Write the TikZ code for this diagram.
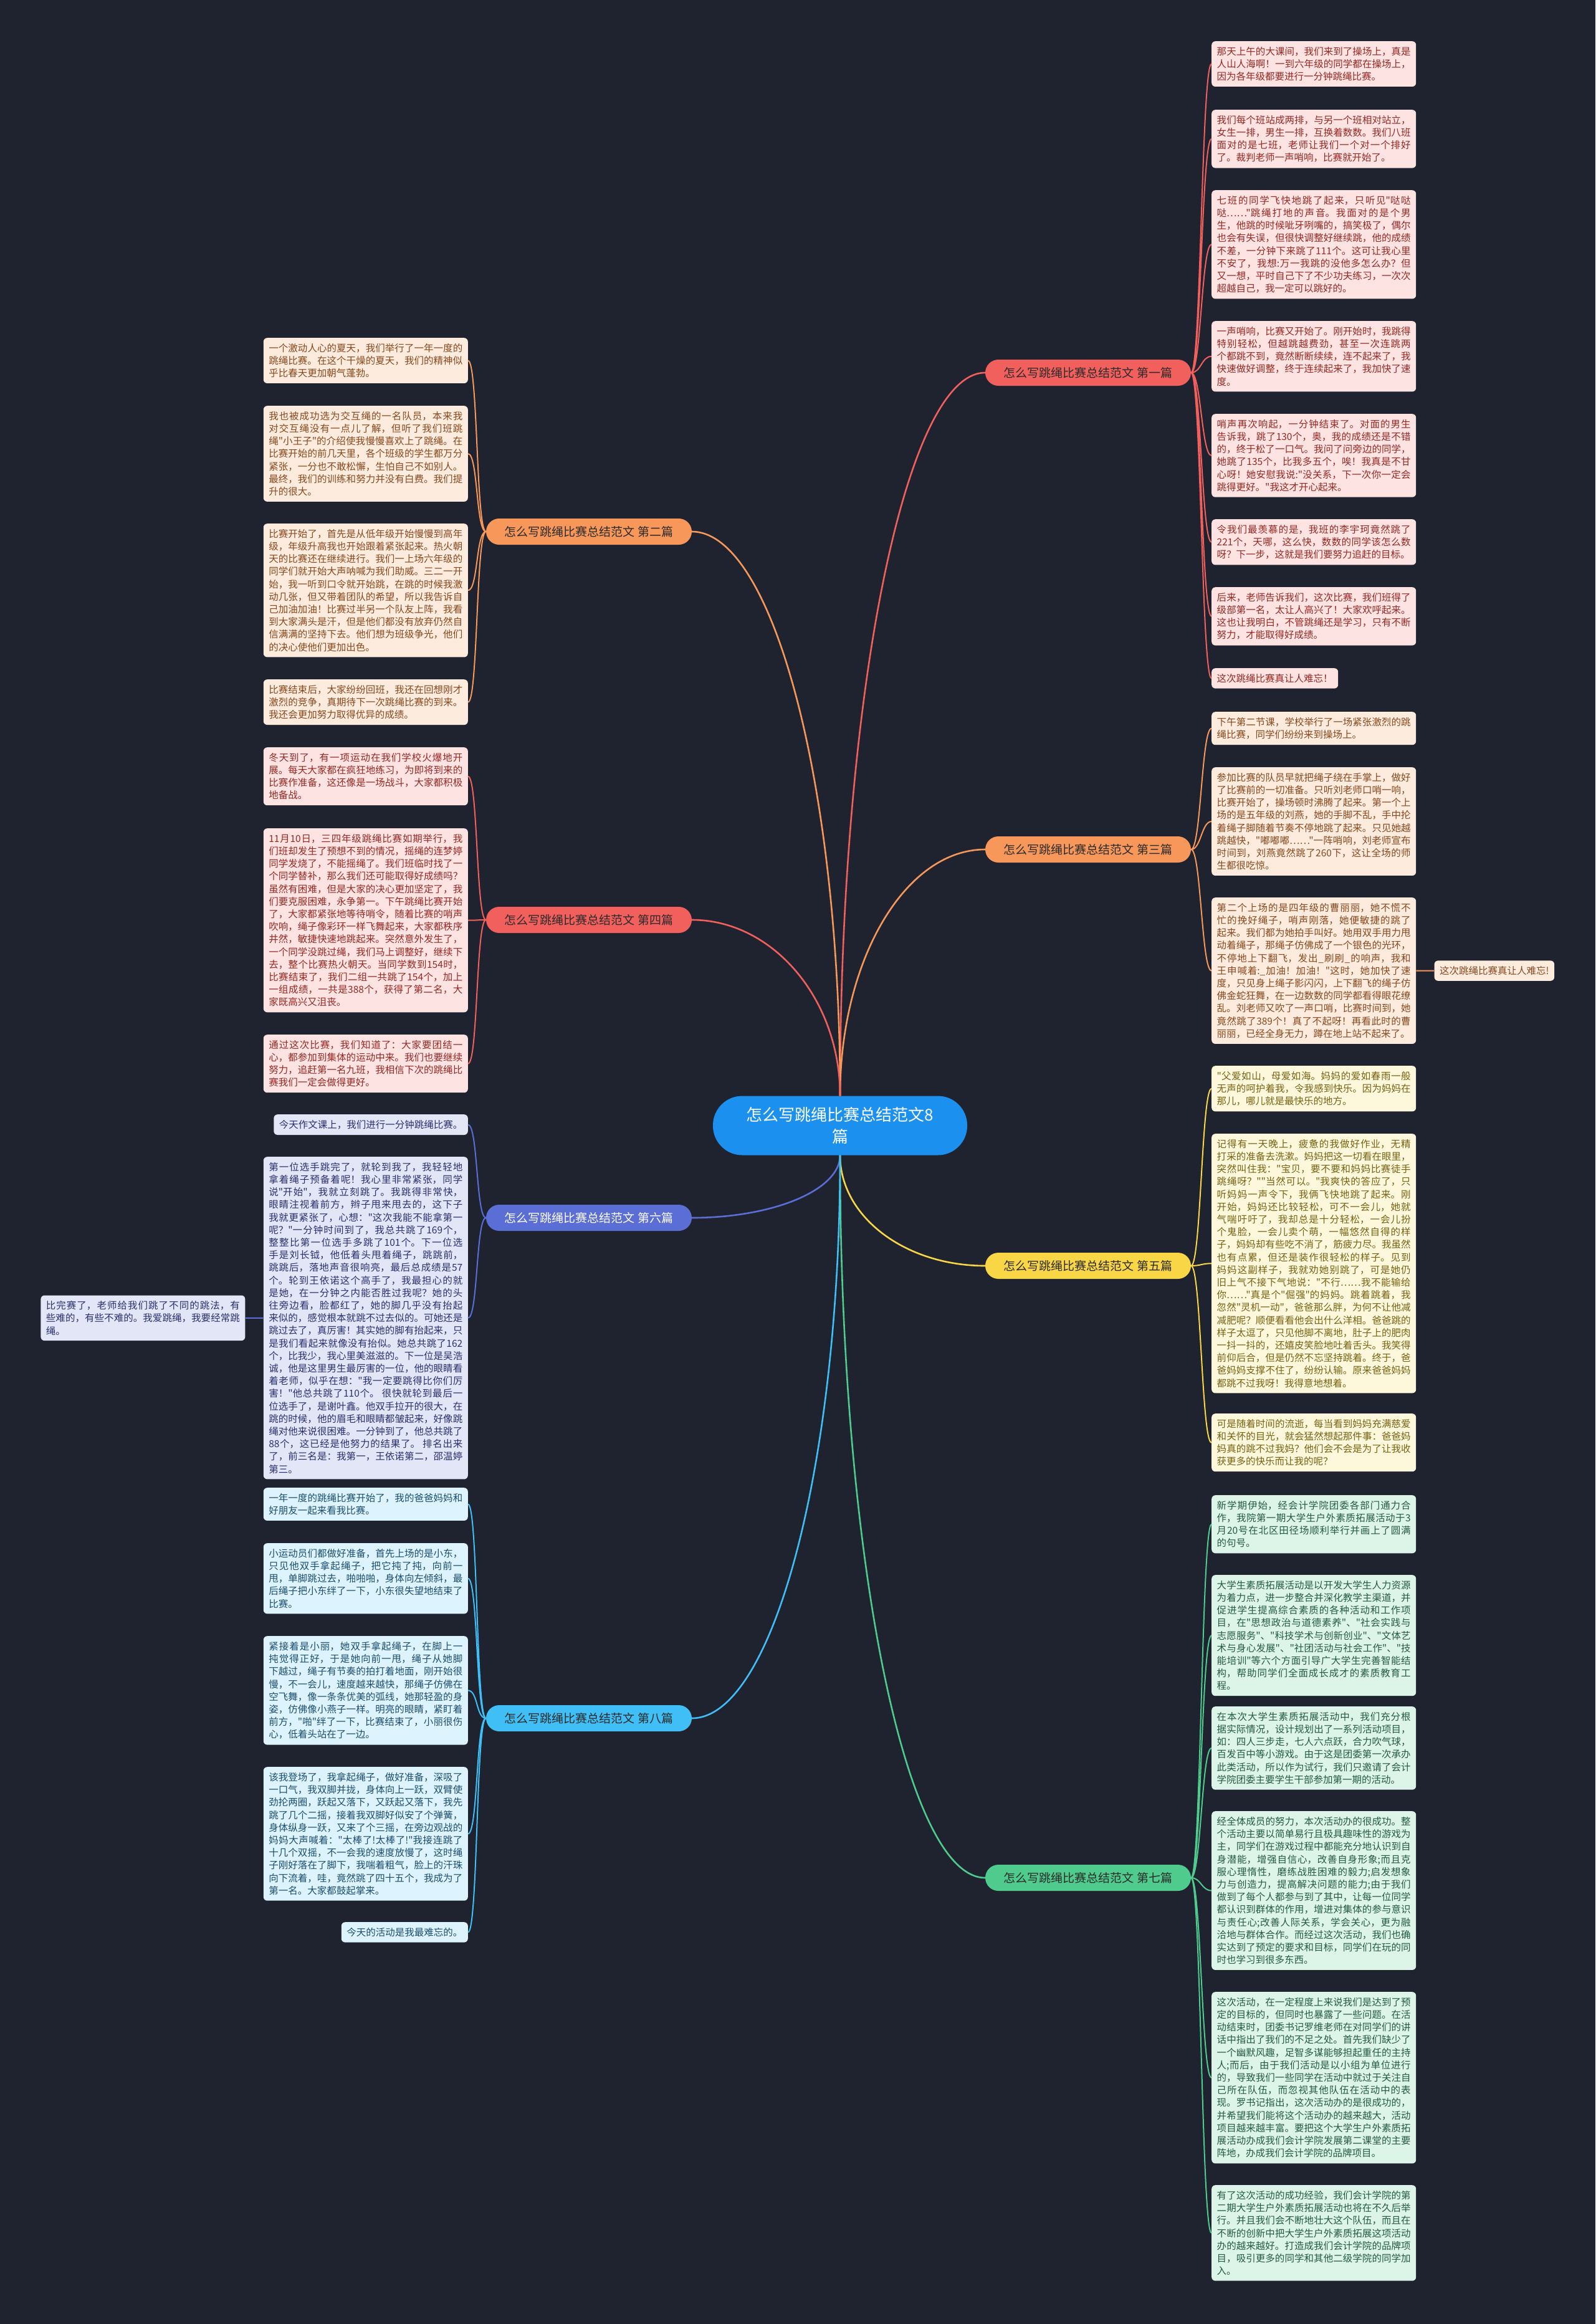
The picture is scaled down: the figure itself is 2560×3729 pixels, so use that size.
\documentclass[tikz,border=0pt]{standalone}
\usepackage{fontspec}
\setmainfont{Noto Sans CJK SC}[Ligatures=TeXOff]
\usepackage{tikz}
\usetikzlibrary{positioning}
\XeTeXlinebreaklocale "zh"
\XeTeXlinebreakskip = 0pt plus 2pt

\definecolor{bgc}{HTML}{1F2330}
\definecolor{hubc}{HTML}{1B90EF}
\definecolor{cred}{HTML}{F2605E}
\definecolor{corg}{HTML}{F7985A}
\definecolor{cyel}{HTML}{F9D645}
\definecolor{cind}{HTML}{5B6ED6}
\definecolor{cgrn}{HTML}{4ECB8D}
\definecolor{csky}{HTML}{3FBFF5}
\definecolor{pillink}{HTML}{2B2B2B}

\newcommand{\leaffont}{\fontsize{15.5}{20.2}\selectfont}
\tikzset{
  hub/.style={fill=hubc, text=white, rounded corners=47pt, minimum width=408pt,
    minimum height=95pt, align=center, font=\fontsize{26}{35}\selectfont},
  pill/.style={rounded corners=21pt, minimum width=330pt, minimum height=42pt,
    inner sep=0pt, text=pillink, font=\fontsize{19}{22}\selectfont},
  leaf/.style={rounded corners=6pt, inner xsep=8.5pt, inner ysep=9pt,
    text width=311pt, align=justify, font=\leaffont},
  tip/.style={rounded corners=6pt, inner xsep=8.5pt, inner ysep=9pt, font=\leaffont},
  lred/.style={fill={rgb,255:red,253;green,227;blue,225}, text={rgb,255:red,150;green,40;blue,36}},
  lorg/.style={fill={rgb,255:red,253;green,235;blue,221}, text={rgb,255:red,135;green,72;blue,30}},
  lyel/.style={fill={rgb,255:red,253;green,247;blue,219}, text={rgb,255:red,118;green,98;blue,18}},
  lind/.style={fill={rgb,255:red,227;green,230;blue,247}, text={rgb,255:red,42;green,48;blue,110}},
  lgrn/.style={fill={rgb,255:red,221;green,244;blue,232}, text={rgb,255:red,36;green,90;blue,68}},
  lsky/.style={fill={rgb,255:red,221;green,243;blue,253}, text={rgb,255:red,27;green,78;blue,110}},
  wire/.style={line width=2.6pt},
  twig/.style={line width=2pt},
  rgo/.style={to path={.. controls ([xshift=16pt]\tikztostart) and ([xshift=-16pt]\tikztotarget) .. (\tikztotarget)}},
  lgo/.style={to path={.. controls ([xshift=-16pt]\tikztostart) and ([xshift=16pt]\tikztotarget) .. (\tikztotarget)}}
}

\begin{document}
\begin{tikzpicture}[x=1pt,y=1pt]
\fill[bgc] (0,0) rectangle (2560,-3729);
\useasboundingbox (0,0) rectangle (2560,-3729);

% centre and the eight pieces
\node[hub] (c) at (1348,-1806) {怎么写跳绳比赛总结范文8\\篇};
\node[pill, fill=cred] (b1) at (1746,-598) {怎么写跳绳比赛总结范文 第一篇};
\node[pill, fill=corg] (b2) at (945,-853) {怎么写跳绳比赛总结范文 第二篇};
\node[pill, fill=corg] (b3) at (1746,-1363) {怎么写跳绳比赛总结范文 第三篇};
\node[pill, fill=cred] (b4) at (945,-1476) {怎么写跳绳比赛总结范文 第四篇};
\node[pill, fill=cyel] (b5) at (1746,-2031) {怎么写跳绳比赛总结范文 第五篇};
\node[pill, fill=cind, text=white] (b6) at (945,-1954) {怎么写跳绳比赛总结范文 第六篇};
\node[pill, fill=cgrn] (b7) at (1746,-3013) {怎么写跳绳比赛总结范文 第七篇};
\node[pill, fill=csky] (b8) at (945,-2757) {怎么写跳绳比赛总结范文 第八篇};

% first
\node[leaf, lred, anchor=north west] (r11) at (1944,-66) {那天上午的大课间，我们来到了操场上，真是人山人海啊！一到六年级的同学都在操场上，因为各年级都要进行一分钟跳绳比赛。};
\node[leaf, lred, anchor=north west] (r12) at (1944,-176) {我们每个班站成两排，与另一个班相对站立，女生一排，男生一排，互换着数数。我们八班面对的是七班，老师让我们一个对一个排好了。裁判老师一声哨响，比赛就开始了。};
\node[leaf, lred, anchor=north west] (r13) at (1944,-305) {七班的同学飞快地跳了起来，只听见"哒哒哒……"跳绳打地的声音。我面对的是个男生，他跳的时候呲牙咧嘴的，搞笑极了，偶尔也会有失误，但很快调整好继续跳，他的成绩不差，一分钟下来跳了111个。这可让我心里不安了，我想:万一我跳的没他多怎么办？但又一想，平时自己下了不少功夫练习，一次次超越自己，我一定可以跳好的。};
\node[leaf, lred, anchor=north west] (r14) at (1944,-515) {一声哨响，比赛又开始了。刚开始时，我跳得特别轻松，但越跳越费劲，甚至一次连跳两个都跳不到，竟然断断续续，连不起来了，我快速做好调整，终于连续起来了，我加快了速度。};
\node[leaf, lred, anchor=north west] (r15) at (1944,-664) {哨声再次响起，一分钟结束了。对面的男生告诉我，跳了130个，奥，我的成绩还是不错的，终于松了一口气。我问了问旁边的同学，她跳了135个，比我多五个，唉！我真是不甘心呀！她安慰我说:"没关系，下一次你一定会跳得更好。"我这才开心起来。};
\node[leaf, lred, anchor=north west] (r16) at (1944,-833) {令我们最羡慕的是，我班的李宇珂竟然跳了221个，天哪，这么快，数数的同学该怎么数呀？下一步，这就是我们要努力追赶的目标。};
\node[leaf, lred, anchor=north west] (r17) at (1944,-942) {后来，老师告诉我们，这次比赛，我们班得了级部第一名，太让人高兴了！大家欢呼起来。这也让我明白，不管跳绳还是学习，只有不断努力，才能取得好成绩。};
\node[tip, lred, anchor=north west] (r18) at (1944,-1072) {这次跳绳比赛真让人难忘！};

% third
\node[leaf, lorg, anchor=north west] (r31) at (1944,-1142) {下午第二节课，学校举行了一场紧张激烈的跳绳比赛，同学们纷纷来到操场上。};
\node[leaf, lorg, anchor=north west] (r32) at (1944,-1231) {参加比赛的队员早就把绳子绕在手掌上，做好了比赛前的一切准备。只听刘老师口哨一响，比赛开始了，操场顿时沸腾了起来。第一个上场的是五年级的刘燕，她的手脚不乱，手中抡着绳子脚随着节奏不停地跳了起来。只见她越跳越快，"嘟嘟嘟……"一阵哨响，刘老师宣布时间到，刘燕竟然跳了260下，这让全场的师生都很吃惊。};
\node[leaf, lorg, anchor=north west] (r33) at (1944,-1440) {第二个上场的是四年级的曹丽丽，她不慌不忙的挽好绳子，哨声刚落，她便敏捷的跳了起来。我们都为她拍手叫好。她用双手用力甩动着绳子，那绳子仿佛成了一个银色的光环，不停地上下翻飞，发出\_刷刷\_的响声，我和王申喊着:\_加油！加油！"这时，她加快了速度，只见身上绳子影闪闪，上下翻飞的绳子仿佛金蛇狂舞，在一边数数的同学都看得眼花缭乱。刘老师又吹了一声口哨，比赛时间到，她竟然跳了389个！真了不起呀！再看此时的曹丽丽，已经全身无力，蹲在地上站不起来了。};
\node[tip, lorg, right=29pt of r33] (r3c) {这次跳绳比赛真让人难忘!};

% fifth
\node[leaf, lyel, anchor=north west] (r51) at (1944,-1710) {"父爱如山，母爱如海。妈妈的爱如春雨一般无声的呵护着我，令我感到快乐。因为妈妈在那儿，哪儿就是最快乐的地方。};
\node[leaf, lyel, anchor=north west] (r52) at (1944,-1819) {记得有一天晚上，疲惫的我做好作业，无精打采的准备去洗漱。妈妈把这一切看在眼里，突然叫住我："宝贝，要不要和妈妈比赛徒手跳绳呀？""当然可以。"我爽快的答应了，只听妈妈一声令下，我俩飞快地跳了起来。刚开始，妈妈还比较轻松，可不一会儿，她就气喘吁吁了，我却总是十分轻松，一会儿扮个鬼脸，一会儿卖个萌，一幅悠然自得的样子，妈妈却有些吃不消了，筋疲力尽。我虽然也有点累，但还是装作很轻松的样子。见到妈妈这副样子，我就劝她别跳了，可是她仍旧上气不接下气地说："不行……我不能输给你……"真是个"倔强"的妈妈。跳着跳着，我忽然"灵机一动"，爸爸那么胖，为何不让他减减肥呢？顺便看看他会出什么洋相。爸爸跳的样子太逗了，只见他脚不离地，肚子上的肥肉一抖一抖的，还嬉皮笑脸地吐着舌头。我笑得前仰后合，但是仍然不忘坚持跳着。终于，爸爸妈妈支撑不住了，纷纷认输。原来爸爸妈妈都跳不过我呀！我得意地想着。};
\node[leaf, lyel, anchor=north west] (r53) at (1944,-2268) {可是随着时间的流逝，每当看到妈妈充满慈爱和关怀的目光，就会猛然想起那件事：爸爸妈妈真的跳不过我妈？他们会不会是为了让我收获更多的快乐而让我的呢？};

% seventh
\node[leaf, lgrn, anchor=north west] (r71) at (1944,-2399) {新学期伊始，经会计学院团委各部门通力合作，我院第一期大学生户外素质拓展活动于3月20号在北区田径场顺利举行并画上了圆满的句号。};
\node[leaf, lgrn, anchor=north west] (r72) at (1944,-2527) {大学生素质拓展活动是以开发大学生人力资源为着力点，进一步整合并深化教学主渠道，并促进学生提高综合素质的各种活动和工作项目，在"思想政治与道德素养"、"社会实践与志愿服务"、"科技学术与创新创业"、"文体艺术与身心发展"、"社团活动与社会工作"、"技能培训"等六个方面引导广大学生完善智能结构，帮助同学们全面成长成才的素质教育工程。};
\node[leaf, lgrn, anchor=north west] (r73) at (1944,-2738) {在本次大学生素质拓展活动中，我们充分根据实际情况，设计规划出了一系列活动项目，如：四人三步走，七人六点跃，合力吹气球，百发百中等小游戏。由于这是团委第一次承办此类活动，所以作为试行，我们只邀请了会计学院团委主要学生干部参加第一期的活动。};
\node[leaf, lgrn, anchor=north west] (r74) at (1944,-2906) {经全体成员的努力，本次活动办的很成功。整个活动主要以简单易行且极具趣味性的游戏为主，同学们在游戏过程中都能充分地认识到自身潜能，增强自信心，改善自身形象;而且克服心理惰性，磨练战胜困难的毅力;启发想象力与创造力，提高解决问题的能力;由于我们做到了每个人都参与到了其中，让每一位同学都认识到群体的作用，增进对集体的参与意识与责任心;改善人际关系，学会关心，更为融洽地与群体合作。而经过这次活动，我们也确实达到了预定的要求和目标，同学们在玩的同时也学习到很多东西。};
\node[leaf, lgrn, anchor=north west] (r75) at (1944,-3196) {这次活动，在一定程度上来说我们是达到了预定的目标的，但同时也暴露了一些问题。在活动结束时，团委书记罗维老师在对同学们的讲话中指出了我们的不足之处。首先我们缺少了一个幽默风趣，足智多谋能够担起重任的主持人;而后，由于我们活动是以小组为单位进行的，导致我们一些同学在活动中就过于关注自己所在队伍，而忽视其他队伍在活动中的表现。罗书记指出，这次活动办的是很成功的，并希望我们能将这个活动办的越来越大，活动项目越来越丰富。要把这个大学生户外素质拓展活动办成我们会计学院发展第二课堂的主要阵地，办成我们会计学院的品牌项目。};
\node[leaf, lgrn, anchor=north west] (r76) at (1944,-3506) {有了这次活动的成功经验，我们会计学院的第二期大学生户外素质拓展活动也将在不久后举行。并且我们会不断地壮大这个队伍，而且在不断的创新中把大学生户外素质拓展这项活动办的越来越好。打造成我们会计学院的品牌项目，吸引更多的同学和其他二级学院的同学加入。};

% second
\node[leaf, lorg, anchor=north east] (l21) at (751,-542) {一个激动人心的夏天，我们举行了一年一度的跳绳比赛。在这个干燥的夏天，我们的精神似乎比春天更加朝气蓬勃。};
\node[leaf, lorg, anchor=north east] (l22) at (751,-651) {我也被成功选为交互绳的一名队员，本来我对交互绳没有一点儿了解，但听了我们班跳绳"小王子"的介绍使我慢慢喜欢上了跳绳。在比赛开始的前几天里，各个班级的学生都万分紧张，一分也不敢松懈，生怕自己不如别人。最终，我们的训练和努力并没有白费。我们提升的很大。};
\node[leaf, lorg, anchor=north east] (l23) at (751,-840) {比赛开始了，首先是从低年级开始慢慢到高年级，年级升高我也开始跟着紧张起来。热火朝天的比赛还在继续进行。我们一上场六年级的同学们就开始大声呐喊为我们助威。三二一开始，我一听到口令就开始跳，在跳的时候我激动几张，但又带着团队的希望，所以我告诉自己加油加油！比赛过半另一个队友上阵，我看到大家满头是汗，但是他们都没有放弃仍然自信满满的坚持下去。他们想为班级争光，他们的决心使他们更加出色。};
\node[leaf, lorg, anchor=north east] (l24) at (751,-1090) {比赛结束后，大家纷纷回班，我还在回想刚才激烈的竞争，真期待下一次跳绳比赛的到来。我还会更加努力取得优异的成绩。};

% fourth
\node[leaf, lred, anchor=north east] (l41) at (751,-1199) {冬天到了，有一项运动在我们学校火爆地开展。每天大家都在疯狂地练习，为即将到来的比赛作准备，这还像是一场战斗，大家都积极地备战。};
\node[leaf, lred, anchor=north east] (l42) at (751,-1329) {11月10日，三四年级跳绳比赛如期举行，我们班却发生了预想不到的情况，摇绳的连梦婷同学发烧了，不能摇绳了。我们班临时找了一个同学替补，那么我们还可能取得好成绩吗？虽然有困难，但是大家的决心更加坚定了，我们要克服困难，永争第一。下午跳绳比赛开始了，大家都紧张地等待哨令，随着比赛的哨声吹响，绳子像彩环一样飞舞起来，大家都秩序井然，敏捷快速地跳起来。突然意外发生了，一个同学没跳过绳，我们马上调整好，继续下去，整个比赛热火朝天。当同学数到154时，比赛结束了，我们二组一共跳了154个，加上一组成绩，一共是388个，获得了第二名，大家既高兴又沮丧。};
\node[leaf, lred, anchor=north east] (l43) at (751,-1660) {通过这次比赛，我们知道了：大家要团结一心，都参加到集体的运动中来。我们也要继续努力，追赶第一名九班，我相信下次的跳绳比赛我们一定会做得更好。};

% sixth
\node[tip, lind, anchor=north east] (l61) at (751,-1788) {今天作文课上，我们进行一分钟跳绳比赛。};
\node[leaf, lind, anchor=north east] (l62) at (751,-1856) {第一位选手跳完了，就轮到我了，我轻轻地拿着绳子预备着呢！我心里非常紧张，同学说"开始"，我就立刻跳了。我跳得非常快，眼睛注视着前方，辫子甩来甩去的，这下子我就更紧张了，心想："这次我能不能拿第一呢？"一分钟时间到了，我总共跳了169个，整整比第一位选手多跳了101个。下一位选手是刘长钺，他低着头甩着绳子，跳跳前，跳跳后，落地声音很响亮，最后总成绩是57个。轮到王依诺这个高手了，我最担心的就是她，在一分钟之内能否胜过我呢？她的头往旁边看，脸都红了，她的脚几乎没有抬起来似的，感觉根本就跳不过去似的。可她还是跳过去了，真厉害！其实她的脚有抬起来，只是我们看起来就像没有抬似。她总共跳了162个，比我少，我心里美滋滋的。下一位是吴浩诚，他是这里男生最厉害的一位，他的眼睛看着老师，似乎在想："我一定要跳得比你们厉害！"他总共跳了110个。 很快就轮到最后一位选手了，是谢叶鑫。他双手拉开的很大，在跳的时候，他的眉毛和眼睛都皱起来，好像跳绳对他来说很困难。一分钟到了，他总共跳了88个，这已经是他努力的结果了。 排名出来了，前三名是：我第一，王依诺第二，邵温婷第三。};
\node[leaf, lind, left=29pt of l62] (l6c) {比完赛了，老师给我们跳了不同的跳法，有些难的，有些不难的。我爱跳绳，我要经常跳绳。};

% eighth
\node[leaf, lsky, anchor=north east] (l81) at (751,-2387) {一年一度的跳绳比赛开始了，我的爸爸妈妈和好朋友一起来看我比赛。};
\node[leaf, lsky, anchor=north east] (l82) at (751,-2476) {小运动员们都做好准备，首先上场的是小东，只见他双手拿起绳子，把它扽了扽，向前一甩，单脚跳过去，啪啪啪，身体向左倾斜，最后绳子把小东绊了一下，小东很失望地结束了比赛。};
\node[leaf, lsky, anchor=north east] (l83) at (751,-2625) {紧接着是小丽，她双手拿起绳子，在脚上一扽觉得正好，于是她向前一甩，绳子从她脚下越过，绳子有节奏的拍打着地面，刚开始很慢，不一会儿，速度越来越快，那绳子仿佛在空飞舞，像一条条优美的弧线，她那轻盈的身姿，仿佛像小燕子一样。明亮的眼睛，紧盯着前方，"啪"绊了一下，比赛结束了，小丽很伤心，低着头站在了一边。};
\node[leaf, lsky, anchor=north east] (l84) at (751,-2835) {该我登场了，我拿起绳子，做好准备，深吸了一口气，我双脚并拢，身体向上一跃，双臂使劲抡两圈，跃起又落下，又跃起又落下，我先跳了几个二摇，接着我双脚好似安了个弹簧，身体纵身一跃，又来了个三摇，在旁边观战的妈妈大声喊着："太棒了!太棒了!"我接连跳了十几个双摇，不一会我的速度放慢了，这时绳子刚好落在了脚下，我喘着粗气，脸上的汗珠向下流着，哇，竟然跳了四十五个，我成为了第一名。大家都鼓起掌来。};
\node[tip, lsky, anchor=north east] (l85) at (751,-3084) {今天的活动是我最难忘的。};

% centre to pieces
\draw[wire, cred] (c.north) .. controls ([yshift=638pt]c.north) and ([xshift=-129pt]b1.west) .. (b1.west);
\draw[wire, corg] (c.north) .. controls ([yshift=498pt]c.north) and ([xshift=130pt]b2.east) .. (b2.east);
\draw[wire, corg] (c.north) .. controls ([yshift=217pt]c.north) and ([xshift=-129pt]b3.west) .. (b3.west);
\draw[wire, cred] (c.north) .. controls ([yshift=155pt]c.north) and ([xshift=130pt]b4.east) .. (b4.east);
\draw[wire, cyel] (c.south) .. controls ([yshift=-98pt]c.south) and ([xshift=-129pt]b5.west) .. (b5.west);
\draw[wire, cind] (c.south) .. controls ([yshift=-56pt]c.south) and ([xshift=130pt]b6.east) .. (b6.east);
\draw[wire, cgrn] (c.south) .. controls ([yshift=-638pt]c.south) and ([xshift=-129pt]b7.west) .. (b7.west);
\draw[wire, csky] (c.south) .. controls ([yshift=-497pt]c.south) and ([xshift=130pt]b8.east) .. (b8.east);

% pieces to paragraphs
\draw[twig, cred, rgo] (b1.east) to (r11.west) (b1.east) to (r12.west) (b1.east) to (r13.west) (b1.east) to (r14.west)
  (b1.east) to (r15.west) (b1.east) to (r16.west) (b1.east) to (r17.west) (b1.east) to (r18.west);
\draw[twig, corg, rgo] (b3.east) to (r31.west) (b3.east) to (r32.west) (b3.east) to (r33.west) (r33.east) to (r3c.west);
\draw[twig, cyel, rgo] (b5.east) to (r51.west) (b5.east) to (r52.west) (b5.east) to (r53.west);
\draw[twig, cgrn, rgo] (b7.east) to (r71.west) (b7.east) to (r72.west) (b7.east) to (r73.west)
  (b7.east) to (r74.west) (b7.east) to (r75.west) (b7.east) to (r76.west);
\draw[twig, corg, lgo] (b2.west) to (l21.east) (b2.west) to (l22.east) (b2.west) to (l23.east) (b2.west) to (l24.east);
\draw[twig, cred, lgo] (b4.west) to (l41.east) (b4.west) to (l42.east) (b4.west) to (l43.east);
\draw[twig, cind, lgo] (b6.west) to (l61.east) (b6.west) to (l62.east) (l62.west) to (l6c.east);
\draw[twig, csky, lgo] (b8.west) to (l81.east) (b8.west) to (l82.east) (b8.west) to (l83.east)
  (b8.west) to (l84.east) (b8.west) to (l85.east);

\end{tikzpicture}
\end{document}
